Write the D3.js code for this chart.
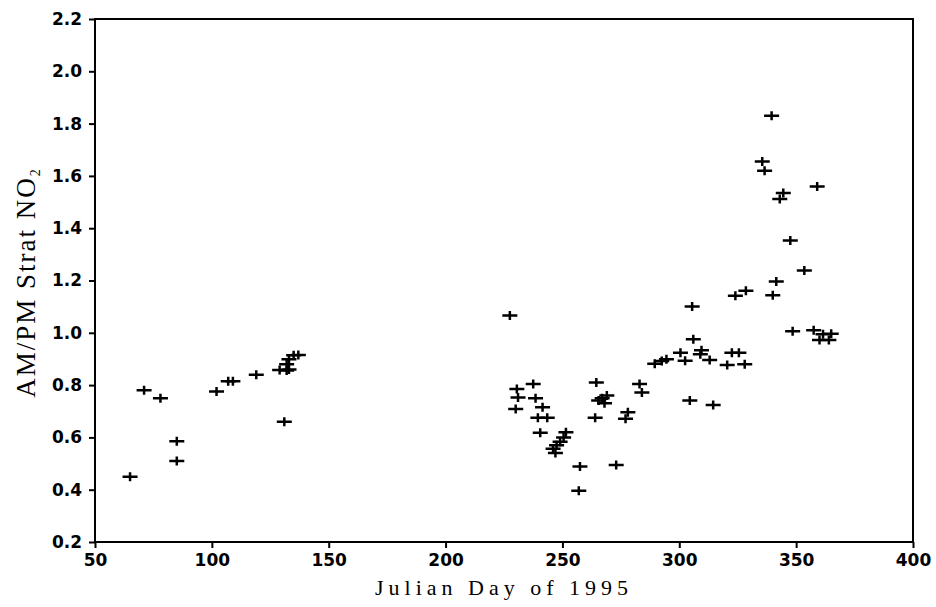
<!DOCTYPE html>
<html>
<head>
<meta charset="utf-8">
<script src="https://cdn.jsdelivr.net/npm/d3@7"></script>
<style>
  body { margin: 0; background: #fff; }
  .tick text { font-family: "DejaVu Sans", sans-serif; font-weight: bold; font-size: 17px; fill: #000; }
  .tick line { stroke: #000; stroke-width: 2px; }
</style>
</head>
<body>
<svg id="canvas" width="936" height="607"></svg>
<script>
// Julian day and AM/PM ratio
let days = [65, 71, 78, 85, 85, 102, 107, 109, 119, 129, 131, 132, 132, 133, 133, 135, 137,
    227.5, 230.5, 231, 230, 237.5, 238.5, 239.5, 241.5, 243.5, 240.5, 251.5, 250.5, 249, 247.5, 246, 247,
    257.5, 257, 273, 264.5, 264, 265.5, 267, 269, 268, 278, 277, 283, 284,
    289.5, 292.5, 294.5, 300.5, 302.5, 305.5, 306, 309.5, 309, 313, 304.5, 314.5,
    322.5, 325.5, 320.5, 328, 324, 328.5, 340, 341.5, 353.5, 348.5, 357.5, 361.5, 365, 360, 364,
    339.5, 335.5, 336.5, 359, 344.5, 343, 347.5]
let ratios = [0.45, 0.78, 0.75, 0.585, 0.51, 0.776, 0.815, 0.815, 0.84, 0.858, 0.66, 0.856, 0.88, 0.86, 0.899, 0.914, 0.915,
    1.066, 0.785, 0.753, 0.709, 0.804, 0.75, 0.675, 0.715, 0.675, 0.618, 0.62, 0.60, 0.583, 0.57, 0.557, 0.54,
    0.489, 0.396, 0.494, 0.81, 0.675, 0.741, 0.75, 0.76, 0.731, 0.696, 0.671, 0.804, 0.772,
    0.882, 0.892, 0.899, 0.924, 0.893, 1.101, 0.975, 0.933, 0.918, 0.896, 0.741, 0.724,
    0.924, 0.924, 0.877, 0.88, 1.142, 1.161, 1.144, 1.196, 1.238, 1.006, 1.01, 0.994, 0.996, 0.972, 0.972,
    1.83, 1.655, 1.62, 1.559, 1.535, 1.512, 1.353]

let xTicks = [50, 100, 150, 200, 250, 300, 350, 400]
let yTicks = [0.2, 0.4, 0.6, 0.8, 1.0, 1.2, 1.4, 1.6, 1.8, 2.0, 2.2]

let margin = {top: 19, right: 23, bottom: 65, left: 95}
let width = 936 - margin.left - margin.right
let height = 607 - margin.top - margin.bottom

let canvas = d3.select("#canvas")
let g = canvas.append('g').attr('transform', `translate(${margin.left},${margin.top})`)

let xScale = d3.scaleLinear().domain([50, 400]).range([0, width])
let yScale = d3.scaleLinear().domain([0.2, 2.2]).range([height, 0])

let xAxis = d3.axisBottom(xScale).tickValues(xTicks).tickSize(6).tickSizeOuter(0).tickPadding(6)
let yAxis = d3.axisLeft(yScale).tickValues(yTicks).tickFormat(d3.format('.1f')).tickSize(6).tickSizeOuter(0).tickPadding(7)

g.append('g').attr('transform', `translate(0,${height})`).call(xAxis)
    .call(a => a.select('.domain').remove())
g.append('g').call(yAxis)
    .call(a => a.select('.domain').remove())

// frame round the plot
g.append('rect')
    .attr('width', width)
    .attr('height', height)
    .attr('fill', 'none')
    .attr('stroke', '#000')
    .attr('stroke-width', 2)

// plus markers, wider than tall
let marks = g.append('g')
days.forEach((d, i) => {
    let cx = xScale(d)
    let cy = yScale(ratios[i])
    marks.append('path')
        .attr('d', `M${cx - 7.5},${cy}H${cx + 7.5}M${cx},${cy - 4.5}V${cy + 4.5}`)
        .attr('stroke', '#000')
        .attr('stroke-width', 2.5)
        .attr('fill', 'none')
})

// axis titles
g.append('text')
    .attr('x', width / 2)
    .attr('y', height + 53)
    .attr('text-anchor', 'middle')
    .style('font-family', '"Liberation Serif", serif')
    .style('font-size', '22px')
    .style('letter-spacing', '5px')
    .text('Julian Day of 1995')

let yTitle = canvas.append('text')
    .attr('transform', `translate(35,${margin.top + height / 2 + 2}) rotate(-90)`)
    .attr('text-anchor', 'middle')
    .style('font-family', '"Liberation Serif", serif')
    .style('font-size', '27px')
    .style('letter-spacing', '2px')
yTitle.append('tspan').text('AM/PM Strat NO')
yTitle.append('tspan').attr('dy', 5).style('font-size', '14px').text('2')
</script>
</body>
</html>
